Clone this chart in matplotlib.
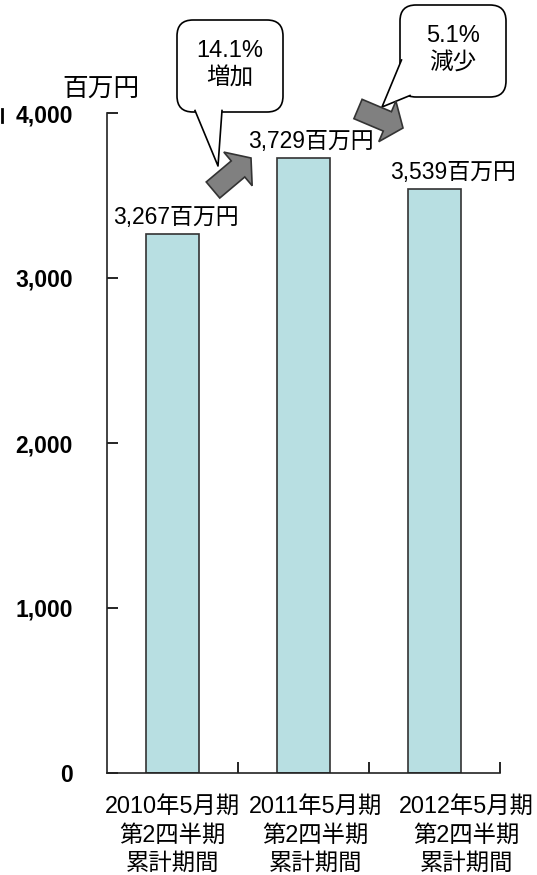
import matplotlib.pyplot as plt
from matplotlib.patches import FancyBboxPatch, FancyArrow, Polygon

plt.rcParams['font.family'] = ['Liberation Sans', 'Noto Sans CJK JP', 'DejaVu Sans']

periods = ['2010年5月期\n第2四半期\n累計期間',
           '2011年5月期\n第2四半期\n累計期間',
           '2012年5月期\n第2四半期\n累計期間']
sales = [3267, 3729, 3539]
bar_labels = ['3,267百万円', '3,729百万円', '3,539百万円']
yticks = [0, 1000, 2000, 3000, 4000]
ytick_labels = ['0', '1,000', '2,000', '3,000', '4,000']
changes = ['14.1%\n増加', '5.1%\n減少']

W, H = 537, 875
fig = plt.figure(figsize=(W / 100, H / 100), dpi=100)
ax = fig.add_axes([107 / W, 102 / H, 393 / W, 660 / H])

x = list(range(len(sales)))
ax.bar(x, sales, width=0.40, color='#b8dfe2', edgecolor='#333333', linewidth=1.2, zorder=2)
ax.set_xlim(-0.5, len(sales) - 0.5)
ax.set_ylim(0, 4000)

for s in ['top', 'right']:
    ax.spines[s].set_visible(False)
for s in ['left', 'bottom']:
    ax.spines[s].set_linewidth(1.2)
    ax.spines[s].set_color('#222222')

ax.set_yticks(yticks)
ax.set_yticklabels(ytick_labels, fontsize=16.5, fontweight='bold')
ax.tick_params(axis='y', direction='in', length=8, width=1.2, pad=24.5)

ax.set_xticks([i + 0.5 for i in x])
ax.set_xticklabels([])
ax.tick_params(axis='x', direction='in', length=8, width=1.2)

# category labels (slightly shifted like the original)
label_dx = [0, 12, 32]
for i, lab in enumerate(periods):
    ax.annotate(lab, xy=(i, 0), xycoords=('data', 'axes fraction'),
                xytext=(label_dx[i], -22), textcoords='offset pixels',
                ha='center', va='top', fontsize=16.8, linespacing=1.3)

# value labels
value_dx = [3, 7, 19]
for i, v in enumerate(sales):
    ax.annotate(bar_labels[i], xy=(i, v), xytext=(value_dx[i], 5),
                textcoords='offset pixels', ha='center', va='bottom', fontsize=16.5)

ax.annotate('百万円', xy=(0, 1), xycoords='axes fraction', xytext=(-6, 12),
            textcoords='offset pixels', ha='center', va='bottom', fontsize=18.5)

# decorations in pixel space
ov = fig.add_axes([0, 0, 1, 1], zorder=5)
ov.set_xlim(0, W)
ov.set_ylim(H, 0)
ov.axis('off')
ov.patch.set_alpha(0)

ov.plot([1.5, 1.5], [109, 122], color='black', lw=2)


def callout(x0, y0, w, h, base, tip, text):
    box = FancyBboxPatch((x0, y0), w, h, boxstyle='round,pad=0,rounding_size=16',
                         fc='white', ec='black', lw=1.2)
    ov.add_patch(box)
    ov.add_patch(Polygon([base[0], base[1], tip], closed=True, fc='white', ec='none', zorder=3))
    ov.plot([base[0][0], tip[0], base[1][0]], [base[0][1], tip[1], base[1][1]],
            color='black', lw=1.2, zorder=4)
    ov.text(x0 + w / 2, y0 + h / 2 - 1, text, ha='center', va='center',
            fontsize=17, linespacing=1.3, zorder=5)


callout(177, 20, 106, 92, [(195, 110.5), (222, 110.5)], (218, 166), changes[0])
callout(400, 5, 106, 92, [(401.5, 60), (410, 95.5)], (382, 107), changes[1])


def block_arrow(x0, y0, x1, y1):
    ov.add_patch(FancyArrow(x0, y0, x1 - x0, y1 - y0, width=21, head_width=44,
                            head_length=17, length_includes_head=True,
                            fc='#808080', ec='#333333', lw=1.2, zorder=6))


block_arrow(213, 190, 251, 158)
block_arrow(358, 109, 403, 128)

fig.savefig('out.png', dpi=100)
